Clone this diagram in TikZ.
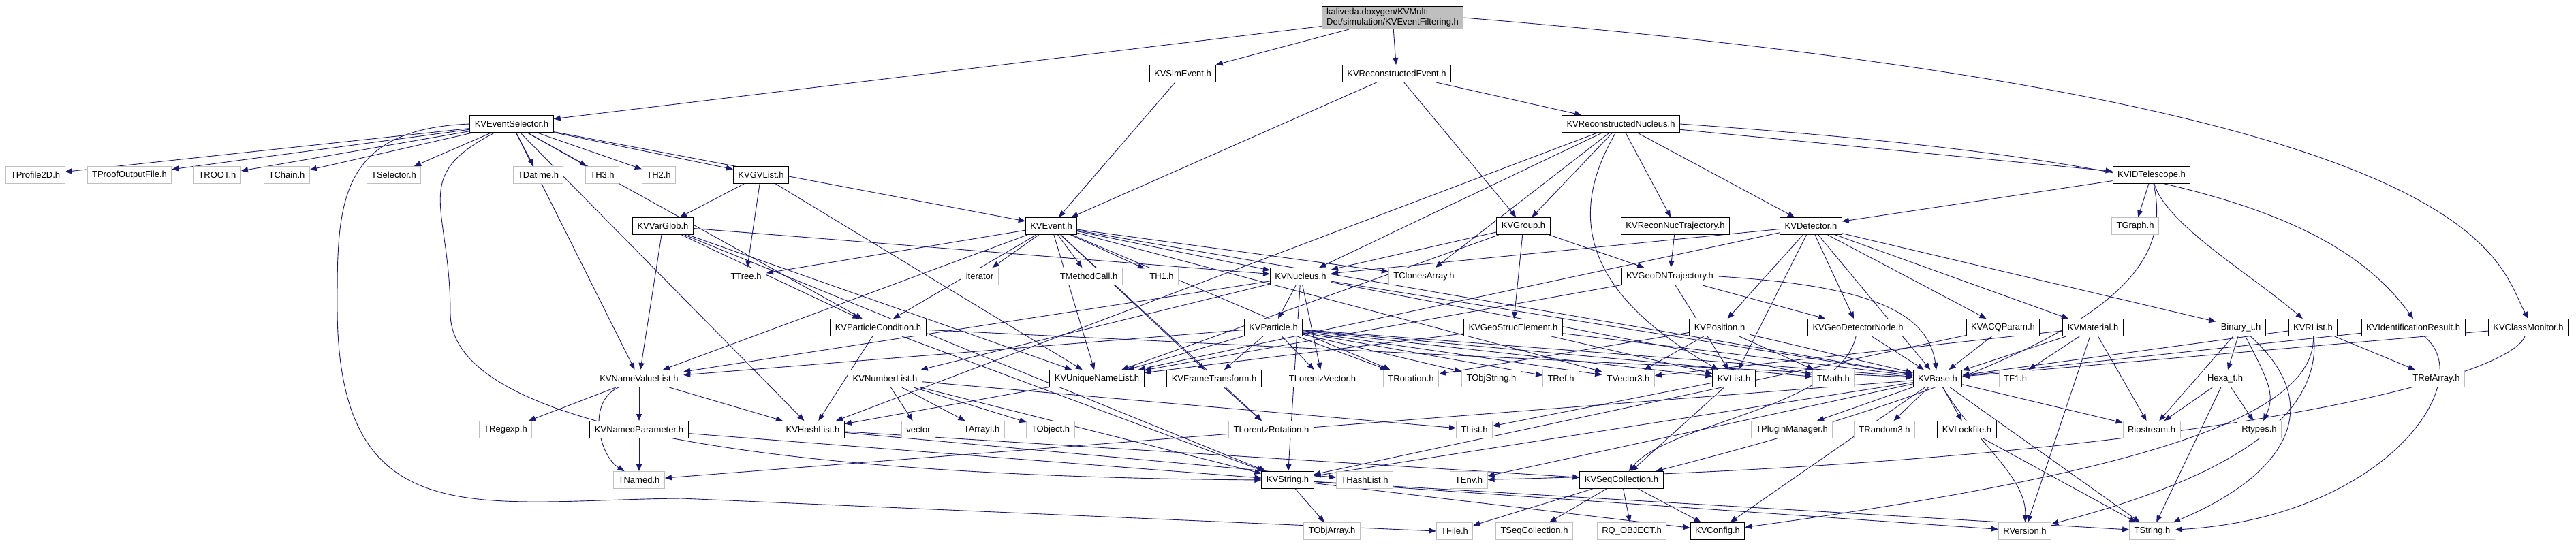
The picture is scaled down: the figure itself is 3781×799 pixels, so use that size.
\documentclass[tikz,border=0pt]{standalone}
\usepackage{fontspec}
\setmainfont{Liberation Sans}
\usetikzlibrary{arrows.meta,backgrounds}
\definecolor{depblue}{RGB}{25,25,112}
\definecolor{extgray}{RGB}{191,191,191}
\newcommand{\incfont}{\fontsize{13}{15}\selectfont}

\begin{document}
\begin{tikzpicture}[x=1pt,y=-1pt,
  kv/.style={draw=black, line width=1pt, fill=white, minimum height=25pt, inner xsep=7pt, inner ysep=2pt, font=\incfont},
  ext/.style={kv, draw=extgray},
  rootbox/.style={kv, fill=extgray, align=left, inner ysep=3pt},
  dep/.style={draw=depblue, line width=0.9pt, -{Triangle[length=10pt,width=8pt]}}]
\useasboundingbox (0,0) rectangle (3781,799);
\node[rootbox] (root) at (2044,26) {kaliveda.doxygen/KVMulti\\Det/simulation/KVEventFiltering.h};
\node[kv] (simev) at (1736,108) {KVSimEvent.h};
\node[kv] (recev) at (2050,108) {KVReconstructedEvent.h};
\node[kv] (evsel) at (751,182) {KVEventSelector.h};
\node[kv] (recnuc) at (2379,182) {KVReconstructedNucleus.h};
\node[ext] (tprof) at (52,257) {TProfile2D.h};
\node[ext] (tproof) at (190,257) {TProofOutputFile.h};
\node[ext] (troot) at (319,257) {TROOT.h};
\node[ext] (tchain) at (421,257) {TChain.h};
\node[ext] (tsel) at (578,257) {TSelector.h};
\node[ext] (tdat) at (790,257) {TDatime.h};
\node[ext] (th3) at (884,257) {TH3.h};
\node[ext] (th2) at (967,257) {TH2.h};
\node[kv] (gvlist) at (1117,257) {KVGVList.h};
\node[kv] (idtel) at (3158,257) {KVIDTelescope.h};
\node[kv] (varglob) at (973,332) {KVVarGlob.h};
\node[kv] (event) at (1543,332) {KVEvent.h};
\node[kv] (group) at (2236,332) {KVGroup.h};
\node[kv] (rntraj) at (2459,332) {KVReconNucTrajectory.h};
\node[kv] (det) at (2658,332) {KVDetector.h};
\node[ext] (tgraph) at (3134,332) {TGraph.h};
\node[ext] (ttree) at (1095,406) {TTree.h};
\node[ext] (iter) at (1438,406) {iterator};
\node[ext] (tmeth) at (1598,406) {TMethodCall.h};
\node[ext] (th1) at (1705,406) {TH1.h};
\node[kv] (nuc) at (1909,406) {KVNucleus.h};
\node[ext] (tclones) at (2090,406) {TClonesArray.h};
\node[kv] (dntraj) at (2451,406) {KVGeoDNTrajectory.h};
\node[kv] (pcond) at (1289,481) {KVParticleCondition.h};
\node[kv] (part) at (1869,481) {KVParticle.h};
\node[kv] (gse) at (2221,481) {KVGeoStrucElement.h};
\node[kv] (pos) at (2524,481) {KVPosition.h};
\node[kv] (gdn) at (2727,481) {KVGeoDetectorNode.h};
\node[kv] (acq) at (2940,481) {KVACQParam.h};
\node[kv] (mat) at (3072,481) {KVMaterial.h};
\node[kv] (bin) at (3289,481) {Binary\_t.h};
\node[kv] (rlist) at (3395,481) {KVRList.h};
\node[kv] (idres) at (3542,481) {KVIdentificationResult.h};
\node[kv] (cmon) at (3711,481) {KVClassMonitor.h};
\node[kv] (nvl) at (938,556) {KVNameValueList.h};
\node[kv] (numl) at (1299,556) {KVNumberList.h};
\node[kv] (unl) at (1610,556) {KVUniqueNameList.h};
\node[kv] (ftr) at (1782,556) {KVFrameTransform.h};
\node[ext] (tlv) at (1941,556) {TLorentzVector.h};
\node[ext] (trot) at (2071,556) {TRotation.h};
\node[ext] (tos) at (2189,556) {TObjString.h};
\node[ext] (tref) at (2291,556) {TRef.h};
\node[ext] (tv3) at (2390,556) {TVector3.h};
\node[kv] (kvlist) at (2545,556) {KVList.h};
\node[ext] (tmath) at (2691,556) {TMath.h};
\node[kv] (base) at (2844,556) {KVBase.h};
\node[ext] (tf1) at (2958,556) {TF1.h};
\node[kv] (hexa) at (3266,556) {Hexa\_t.h};
\node[ext] (trefarr) at (3576,556) {TRefArray.h};
\node[ext] (tregexp) at (742,631) {TRegexp.h};
\node[kv] (npar) at (938,631) {KVNamedParameter.h};
\node[kv] (hlist) at (1193,631) {KVHashList.h};
\node[ext] (vec) at (1348,631) {vector};
\node[ext] (tarr) at (1441,631) {TArrayI.h};
\node[ext] (tobj) at (1542,631) {TObject.h};
\node[ext] (tlr) at (1866,631) {TLorentzRotation.h};
\node[ext] (tlist) at (2164,631) {TList.h};
\node[ext] (tplug) at (2630,631) {TPluginManager.h};
\node[ext] (trand) at (2766,631) {TRandom3.h};
\node[kv] (lock) at (2887,631) {KVLockfile.h};
\node[ext] (rio) at (3158,631) {Riostream.h};
\node[ext] (rtypes) at (3316,631) {Rtypes.h};
\node[ext] (tnamed) at (938,705) {TNamed.h};
\node[kv] (str) at (1890,705) {KVString.h};
\node[ext] (thl) at (2003,705) {THashList.h};
\node[ext] (tenv) at (2156,705) {TEnv.h};
\node[kv] (seq) at (2380,705) {KVSeqCollection.h};
\node[ext] (toa) at (1955,780) {TObjArray.h};
\node[ext] (tfile) at (2135,780) {TFile.h};
\node[ext] (tseq) at (2252,780) {TSeqCollection.h};
\node[ext] (rq) at (2395,780) {RQ\_OBJECT.h};
\node[kv] (cfg) at (2521,780) {KVConfig.h};
\node[ext] (rver) at (2972,780) {RVersion.h};
\node[ext] (tstr) at (3159,780) {TString.h};
\begin{scope}[on background layer]
\draw[dep] (root) -- (evsel);
\draw[dep] (root) -- (simev);
\draw[dep] (root) -- (recev);
\draw[dep] (root.east) .. controls (3662,150) and (3662,380) .. (cmon.north);
\draw[dep] (simev) -- (event);
\draw[dep] (recev) -- (event);
\draw[dep] (recev) -- (group);
\draw[dep] (recev) -- (recnuc);
\draw[dep] (evsel) -- (tprof);
\draw[dep] (evsel) -- (tproof);
\draw[dep] (evsel) -- (troot);
\draw[dep] (evsel) -- (tchain);
\draw[dep] (evsel) -- (tsel);
\draw[dep] (evsel) -- (tdat);
\draw[dep] (evsel) -- (th3);
\draw[dep] (evsel) -- (th2);
\draw[dep] (evsel) -- (gvlist);
\draw[dep] (evsel) -- (event);
\draw[dep] (evsel) -- (pcond);
\draw[dep] (evsel) -- (nvl);
\draw[dep] (evsel) -- (hlist);
\draw[dep] (evsel) .. controls (600,260) and (661,300) .. (661,460) .. controls (661,640) and (1200,700) .. (str.west);
\draw[dep] (evsel.west) .. controls (495,190) and (495,300) .. (495,450) .. controls (495,790) and (700,735) .. (1000,732) -- (tfile.west);
\draw[dep] (gvlist) -- (varglob);
\draw[dep] (gvlist) -- (ttree);
\draw[dep] (gvlist) -- (unl);
\draw[dep] (varglob) -- (nvl);
\draw[dep] (varglob) -- (pcond);
\draw[dep] (varglob) -- (nuc);
\draw[dep] (varglob) -- (unl);
\draw[dep] (varglob) -- (str);
\draw[dep] (event) -- (nuc);
\draw[dep] (event) -- (ttree);
\draw[dep] (event) -- (iter);
\draw[dep] (event) -- (tmeth);
\draw[dep] (event) -- (th1);
\draw[dep] (event) -- (tclones);
\draw[dep] (event) -- (nvl);
\draw[dep] (event) -- (pcond);
\draw[dep] (event) -- (unl);
\draw[dep] (event) -- (ftr);
\draw[dep] (event) -- (tlr);
\draw[dep] (event) -- (trot);
\draw[dep] (event) -- (base);
\draw[dep] (event) -- (tv3);
\draw[dep] (pcond) -- (hlist);
\draw[dep] (pcond) -- (base);
\draw[dep] (pcond) -- (str);
\draw[dep] (nvl) -- (tregexp);
\draw[dep] (nvl) -- (npar);
\draw[dep] (nvl) .. controls (860,590) and (880,670) .. (tnamed);
\draw[dep] (nvl) -- (hlist);
\draw[dep] (npar) -- (tnamed);
\draw[dep] (npar) -- (str);
\draw[dep] (numl) -- (vec);
\draw[dep] (numl) -- (tarr);
\draw[dep] (numl) -- (tobj);
\draw[dep] (numl) -- (str);
\draw[dep] (numl) -- (tlist);
\draw[dep] (hlist) -- (seq);
\draw[dep] (hlist) -- (thl);
\draw[dep] (unl) -- (hlist);
\draw[dep] (nuc) -- (part);
\draw[dep] (nuc) -- (numl);
\draw[dep] (nuc) -- (nvl);
\draw[dep] (nuc) -- (tmath);
\draw[dep] (nuc) -- (base);
\draw[dep] (nuc) -- (str);
\draw[dep] (nuc) -- (tlv);
\draw[dep] (part) -- (unl);
\draw[dep] (part) -- (ftr);
\draw[dep] (part) -- (tlv);
\draw[dep] (part) -- (trot);
\draw[dep] (part) -- (tos);
\draw[dep] (part) -- (tref);
\draw[dep] (part) -- (tv3);
\draw[dep] (part) -- (kvlist);
\draw[dep] (part) -- (tmath);
\draw[dep] (part) -- (base);
\draw[dep] (part) -- (nvl);
\draw[dep] (ftr) -- (tlr);
\draw[dep] (group) -- (gse);
\draw[dep] (group) -- (dntraj);
\draw[dep] (group) -- (unl);
\draw[dep] (group) -- (nuc);
\draw[dep] (gse) -- (unl);
\draw[dep] (gse) -- (base);
\draw[dep] (gse) -- (kvlist);
\draw[dep] (recnuc) -- (nuc);
\draw[dep] (recnuc) -- (tclones);
\draw[dep] (recnuc) -- (group);
\draw[dep] (recnuc) .. controls (2310,300) and (2305,420) .. (kvlist);
\draw[dep] (recnuc) -- (rntraj);
\draw[dep] (recnuc) -- (det);
\draw[dep] (recnuc) -- (idtel);
\draw[dep] (recnuc.east) .. controls (3150,230) and (3420,300) .. (idres.north);
\draw[dep] (recnuc) -- (hlist);
\draw[dep] (rntraj) -- (dntraj);
\draw[dep] (dntraj) -- (gdn);
\draw[dep] (dntraj.east) .. controls (2750,420) and (2830,460) .. (base);
\draw[dep] (dntraj) -- (kvlist);
\draw[dep] (dntraj) -- (unl);
\draw[dep] (det) -- (mat);
\draw[dep] (det) -- (pos);
\draw[dep] (det) -- (gdn);
\draw[dep] (det) -- (acq);
\draw[dep] (det) -- (kvlist);
\draw[dep] (det) -- (bin);
\draw[dep] (det) -- (base);
\draw[dep] (det) -- (unl);
\draw[dep] (det) -- (nuc);
\draw[dep] (pos) -- (tv3);
\draw[dep] (pos) -- (tmath);
\draw[dep] (pos) -- (base);
\draw[dep] (pos) -- (trot);
\draw[dep] (gdn) -- (base);
\draw[dep] (gdn) .. controls (2700,600) and (2450,620) .. (seq);
\draw[dep] (acq) -- (base);
\draw[dep] (acq) -- (str);
\draw[dep] (mat) -- (base);
\draw[dep] (mat) -- (tf1);
\draw[dep] (mat) -- (rio);
\draw[dep] (mat) -- (rver);
\draw[dep] (mat) -- (tv3);
\draw[dep] (bin) -- (hexa);
\draw[dep] (bin) -- (rio);
\draw[dep] (bin) .. controls (3330,560) and (3340,580) .. (rtypes);
\draw[dep] (bin) .. controls (3420,600) and (3350,700) .. (tstr);
\draw[dep] (hexa) -- (rio);
\draw[dep] (hexa) -- (tstr);
\draw[dep] (hexa) -- (rtypes);
\draw[dep] (rlist) -- (trefarr);
\draw[dep] (rlist) -- (base);
\draw[dep] (rlist) .. controls (3410,640) and (3200,720) .. (rver);
\draw[dep] (rlist) .. controls (3400,620) and (3100,700) .. (cfg);
\draw[dep] (idres) -- (base);
\draw[dep] (idres) .. controls (3640,560) and (3500,760) .. (tstr);
\draw[dep] (cmon) -- (base);
\draw[dep] (cmon) .. controls (3680,560) and (3200,680) .. (tenv);
\draw[dep] (idtel) -- (det);
\draw[dep] (idtel) -- (tgraph);
\draw[dep] (idtel) .. controls (3180,330) and (3300,400) .. (rlist);
\draw[dep] (idtel) .. controls (3190,400) and (3100,520) .. (seq);
\draw[dep] (kvlist) -- (seq);
\draw[dep] (kvlist) -- (tlist);
\draw[dep] (seq) -- (tseq);
\draw[dep] (seq) -- (rq);
\draw[dep] (seq) -- (cfg);
\draw[dep] (seq) -- (tfile);
\draw[dep] (base) -- (str);
\draw[dep] (base) -- (tnamed);
\draw[dep] (base) .. controls (2900,650) and (2975,700) .. (rver);
\draw[dep] (base) -- (tstr);
\draw[dep] (base) -- (cfg);
\draw[dep] (base) -- (tplug);
\draw[dep] (base) -- (trand);
\draw[dep] (base) -- (lock);
\draw[dep] (base) -- (rio);
\draw[dep] (base) -- (tenv);
\draw[dep] (str) -- (toa);
\draw[dep] (str) -- (tstr);
\draw[dep] (str) -- (rver);
\draw[dep] (str) -- (cfg);
\draw[dep] (lock) -- (tstr);
\end{scope}
\end{tikzpicture}
\end{document}
